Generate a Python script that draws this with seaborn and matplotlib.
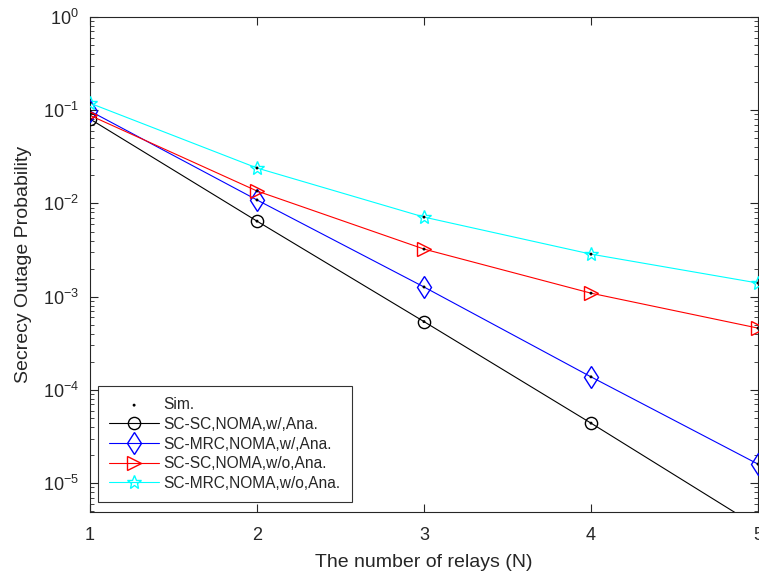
import matplotlib
matplotlib.use("Agg")
import matplotlib.pyplot as plt
import seaborn as sns
import numpy as np
import pandas as pd
from matplotlib.ticker import LogLocator, NullFormatter

relays = [1, 2, 3, 4, 5]
sc_sc_w = [0.0805, 0.00646, 5.4e-4, 4.4e-5, 3.4e-6]
sc_mrc_w = [0.098, 0.0109, 1.27e-3, 1.38e-4, 1.6e-5]
sc_sc_wo = [0.088, 0.0136, 3.24e-3, 1.09e-3, 4.6e-4]
sc_mrc_wo = [0.119, 0.024, 7.14e-3, 2.86e-3, 1.4e-3]

labels = ["SC-SC,NOMA,w/,Ana.", "SC-MRC,NOMA,w/,Ana.",
          "SC-SC,NOMA,w/o,Ana.", "SC-MRC,NOMA,w/o,Ana."]
series = [sc_sc_w, sc_mrc_w, sc_sc_wo, sc_mrc_wo]
colors = ["black", "blue", "red", "cyan"]
markers = ["o", "d", ">", "*"]
msizes = [8.8, 11.5, 9.5, 10.5]

sns.set_style("ticks")
plt.rcParams['font.family'] = ['Liberation Sans', 'DejaVu Sans']

fig = plt.figure(figsize=(7.59, 5.74), dpi=100)
ax = fig.add_axes([90/759, 1-512/574, 668/759, 495/574])

sim_df = pd.DataFrame({"N": relays * 4, "P": sum(series, [])})
sns.scatterplot(data=sim_df, x="N", y="P", ax=ax, color="black", marker=".",
                s=18, edgecolor="none", label="Sim.", zorder=5)

for vals, lab, c, m, ms in zip(series, labels, colors, markers, msizes):
    df = pd.DataFrame({"N": relays, "P": vals})
    sns.lineplot(data=df, x="N", y="P", ax=ax, color=c, marker=m,
                 markersize=ms, markerfacecolor="none", markeredgecolor=c,
                 markeredgewidth=1.0, linewidth=0.8, label=lab, zorder=3)

ax.set_yscale("log")
ax.set_xlim(1, 5)
ax.set_ylim(4.9e-6, 1)
ax.set_xticks([1, 2, 3, 4, 5])
ax.yaxis.set_major_locator(LogLocator(base=10, numticks=10))
ax.yaxis.set_minor_locator(LogLocator(base=10, subs=np.arange(2, 10), numticks=20))
ax.yaxis.set_minor_formatter(NullFormatter())
ax.tick_params(direction="in", top=True, right=True, which="both", labelsize=13)
ax.tick_params(which="major", length=6)
ax.tick_params(which="minor", length=3)
ax.tick_params(axis="x", which="major", pad=11)
ax.tick_params(axis="y", which="major", pad=8)
for s in ax.spines.values():
    s.set_visible(True)
    s.set_linewidth(0.8)

ax.set_xlabel("The number of relays (N)", fontsize=14, labelpad=7)
ax.set_ylabel("Secrecy Outage Probability", fontsize=14, labelpad=8)

leg = ax.legend(loc="lower left", bbox_to_anchor=(0.012, 0.02), fontsize=11.2,
                frameon=True, fancybox=False, edgecolor="black",
                borderpad=0.72, labelspacing=0.3, handlelength=3.2,
                handletextpad=0.3, borderaxespad=0)
leg.get_frame().set_linewidth(0.8)

fig.savefig("out.png", dpi=100)
